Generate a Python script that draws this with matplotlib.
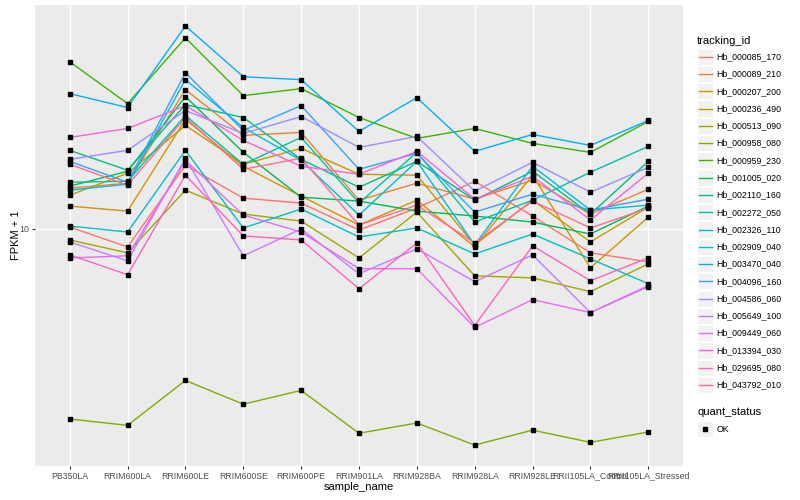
import numpy as np
import matplotlib
matplotlib.use('Agg')
import matplotlib.pyplot as plt

plt.rcParams['font.family'] = ['Liberation Sans', 'DejaVu Sans']

samples = ['PB350LA', 'RRIM600LA', 'RRIM600LE', 'RRIM600SE', 'RRIM600PE', 'RRIM901LA',
           'RRIM928BA', 'RRIM928LA', 'RRIM928LE', 'RRII105LA_Control', 'RRII105LA_Stressed']

# FPKM + 1 per gene, one value per sample
hb_000085_170 = [10.15, 8.71, 16.34, 12.69, 12.21, 9.92, 11.75, 14.45, 11.05, 8.32, 7.76]
hb_000089_210 = [13.70, 14.23, 29.29, 20.58, 21.06, 12.49, 14.23, 12.59, 14.57, 11.22, 13.59]
hb_000207_200 = [11.93, 11.48, 23.26, 16.22, 12.88, 10.31, 12.49, 8.71, 15.14, 7.41, 10.96]
hb_000236_490 = [12.98, 15.37, 22.22, 16.47, 18.62, 15.25, 15.14, 8.84, 12.49, 9.05, 11.84]
hb_000513_090 = [9.19, 8.32, 13.49, 11.22, 10.63, 8.00, 11.39, 6.97, 6.86, 6.17, 7.64]
hb_000958_080 = [2.31, 2.20, 3.11, 2.59, 2.88, 2.07, 2.24, 1.89, 2.12, 1.93, 2.09]
hb_000959_230 = [36.31, 26.30, 43.65, 27.97, 29.51, 23.62, 20.11, 21.71, 19.35, 18.06, 22.91]
hb_001005_020 = [13.91, 15.61, 27.75, 18.06, 12.78, 12.4, 11.48, 11.05, 10.55, 9.62, 11.93]
hb_002110_160 = [18.34, 15.73, 26.1, 23.62, 17.11, 13.8, 16.85, 12.49, 15.61, 11.22, 16.85]
hb_002272_050 = [14.34, 14.45, 23.99, 16.47, 20.26, 12.21, 18.06, 10.55, 12.49, 15.49, 18.91]
hb_002326_110 = [10.23, 9.77, 18.34, 10.08, 11.66, 9.4, 10.08, 8.25, 9.62, 7.94, 6.56]
hb_002909_040 = [13.49, 14.13, 31.62, 21.88, 16.98, 11.13, 16.85, 8.84, 16.22, 11.57, 12.02]
hb_003470_040 = [28.4, 25.51, 47.86, 32.36, 31.62, 21.22, 27.54, 18.2, 20.73, 19.05, 23.09]
hb_004096_160 = [16.85, 14.34, 33.37, 21.38, 25.9, 15.85, 17.92, 11.39, 13.08, 11.57, 12.59]
hb_004586_060 = [17.11, 18.34, 24.93, 20.89, 23.8, 18.76, 20.42, 13.39, 16.72, 13.28, 16.09]
hb_005649_100 = [9.05, 7.82, 17.25, 8.13, 10.0, 7.08, 8.58, 6.66, 8.19, 5.25, 6.41]
hb_009449_060 = [8.0, 8.13, 16.98, 11.13, 9.77, 7.36, 7.36, 4.68, 5.8, 5.25, 6.46]
hb_013394_030 = [20.26, 21.71, 25.9, 19.8, 16.22, 15.25, 18.2, 12.59, 15.02, 10.72, 15.37]
hb_029695_080 = [8.19, 7.03, 15.14, 9.48, 9.19, 6.31, 8.98, 4.75, 8.78, 6.71, 8.0]
hb_043792_010 = [16.47, 14.02, 23.62, 15.85, 17.25, 10.31, 12.02, 8.98, 12.4, 10.08, 11.75]

ids = ['Hb_000085_170', 'Hb_000089_210', 'Hb_000207_200', 'Hb_000236_490', 'Hb_000513_090',
       'Hb_000958_080', 'Hb_000959_230', 'Hb_001005_020', 'Hb_002110_160', 'Hb_002272_050',
       'Hb_002326_110', 'Hb_002909_040', 'Hb_003470_040', 'Hb_004096_160', 'Hb_004586_060',
       'Hb_005649_100', 'Hb_009449_060', 'Hb_013394_030', 'Hb_029695_080', 'Hb_043792_010']
fpkm = [hb_000085_170, hb_000089_210, hb_000207_200, hb_000236_490, hb_000513_090,
        hb_000958_080, hb_000959_230, hb_001005_020, hb_002110_160, hb_002272_050,
        hb_002326_110, hb_002909_040, hb_003470_040, hb_004096_160, hb_004586_060,
        hb_005649_100, hb_009449_060, hb_013394_030, hb_029695_080, hb_043792_010]

# ggplot default hue palette, 20 levels
colors = ['#F8766D', '#EA8331', '#D89000', '#C09B00', '#A3A500', '#7CAE00', '#39B600', '#00BB4E',
          '#00BF7D', '#00C1A3', '#00BFC4', '#00BAE0', '#00B0F6', '#35A2FF', '#9590FF', '#C77CFF',
          '#E76BF3', '#FA62DB', '#FF62BC', '#FF6C91']

fig = plt.figure(figsize=(8, 5), dpi=100)
ax = fig.add_axes([35 / 800, 34 / 500, 648 / 800, 461 / 500])
ax.set_facecolor('#EBEBEB')
x = np.arange(len(samples))
for vals, c in zip(fpkm, colors):
    ax.plot(x, vals, color=c, lw=1.0, zorder=2)
for vals in fpkm:
    ax.plot(x, vals, 's', color='black', ms=2.8, zorder=3, ls='none')

ax.set_yscale('log')
lo = np.log10(min(min(v) for v in fpkm))
hi = np.log10(max(max(v) for v in fpkm))
pad = (hi - lo) * 0.05
ax.set_ylim(10 ** (lo - pad), 10 ** (hi + pad))
ax.set_xlim(-0.6, len(samples) - 0.4)
ax.set_yticks([10])
ax.set_yticklabels(['10'])
ax.yaxis.set_minor_locator(matplotlib.ticker.NullLocator())
ax.set_xticks(x)
ax.set_xticklabels(samples)
ax.grid(True, color='white', lw=1.0, zorder=0)
ax.set_axisbelow(True)
for s in ax.spines.values():
    s.set_visible(False)
ax.tick_params(colors='#333333', labelcolor='#4D4D4D', labelsize=6.3, length=2.5, width=0.8, pad=1.5)
ax.set_xlabel('sample_name', fontsize=8, labelpad=1)
ax.set_ylabel('FPKM + 1', fontsize=8)
ax.yaxis.set_label_coords(-0.022, 0.5)

# legends drawn by hand in pixel space
lax = fig.add_axes([0, 0, 1, 1])
lax.set_xlim(0, 800)
lax.set_ylim(500, 0)
lax.axis('off')
lax.text(697, 40.5, 'tracking_id', fontsize=8, va='center', ha='left')
for i, (name, c) in enumerate(zip(ids, colors)):
    yc = 56.7 + i * 17.28
    lax.add_patch(plt.Rectangle((697, yc - 8.1), 16.2, 16.2, facecolor='#F2F2F2', edgecolor='white', lw=0.8))
    lax.plot([698.5, 711.7], [yc, yc], color=c, lw=1.0)
    lax.text(716.5, yc, name, fontsize=6.3, va='center', ha='left')
lax.text(697, 412, 'quant_status', fontsize=8, va='center', ha='left')
lax.add_patch(plt.Rectangle((697, 429 - 8.1), 16.2, 16.2, facecolor='#F2F2F2', edgecolor='white', lw=0.8))
lax.plot([705], [429], 's', color='black', ms=2.8)
lax.text(716.5, 429, 'OK', fontsize=6.3, va='center', ha='left')

fig.savefig('out.png', dpi=100)
